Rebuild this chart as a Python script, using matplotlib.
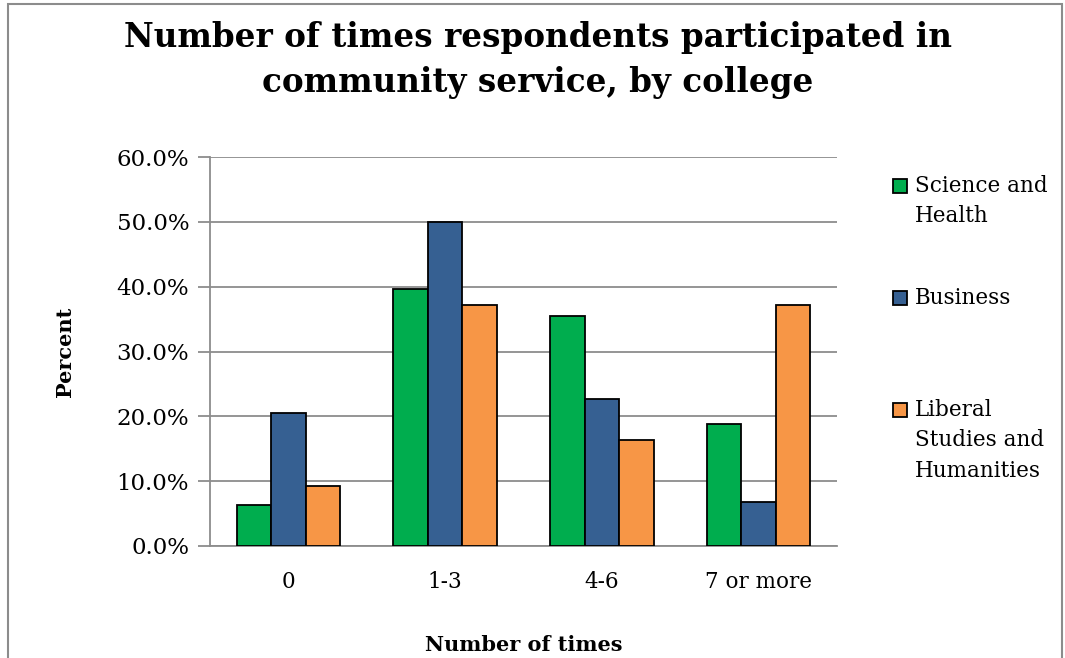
import matplotlib
matplotlib.use("Agg")
from matplotlib import pyplot as plt
from matplotlib.patches import Rectangle
from matplotlib.ticker import FuncFormatter
import numpy as np

categories = ['0', '1-3', '4-6', '7 or more']
science_health = [6.3, 39.6, 35.4, 18.8]
business = [20.5, 50.0, 22.7, 6.8]
liberal_studies = [9.3, 37.2, 16.3, 37.2]
series_names = ['Science and\nHealth', 'Business', 'Liberal\nStudies and\nHumanities']
colors = ['#00ad4e', '#366092', '#f79646']

plt.rcParams['font.family'] = ['DejaVu Serif']

W, H = 1065, 658
fig = plt.figure(figsize=(W / 100, H / 100), dpi=100)
ax = fig.add_axes([210/W, 1-546/H, 627/W, 389/H])

# outer chart border
fig.patches.append(Rectangle((8/W, -0.05), 1054/W, 1.05-4/H, transform=fig.transFigure,
                             fill=False, edgecolor='#8c8c8c', linewidth=1.5))

x = np.arange(len(categories))
w = 0.22
for i, (vals, c) in enumerate(zip([science_health, business, liberal_studies], colors)):
    ax.bar(x + (i - 1) * w, vals, w, color=c, edgecolor='black', linewidth=1.3, zorder=3)

ax.set_xlim(-0.5, 3.5)
ax.set_ylim(0, 60)
ax.set_yticks(np.arange(0, 61, 10))
ax.yaxis.set_major_formatter(FuncFormatter(lambda v, p: '%.1f%%' % v))
ax.set_xticks(x)
ax.set_xticklabels(categories)
ax.grid(axis='y', color='#8c8c8c', linewidth=1.3, zorder=0)
for s in ['top', 'right']:
    ax.spines[s].set_visible(False)
for s in ['left', 'bottom']:
    ax.spines[s].set_color('#8c8c8c')
    ax.spines[s].set_linewidth(1.3)
ax.tick_params(axis='y', length=9, color='#8c8c8c', width=1.3, labelsize=16.5, pad=6)
ax.tick_params(axis='x', length=0, labelsize=15.5, pad=18)

ax.set_ylabel('Percent', fontsize=15, fontweight='bold', labelpad=30)
ax.set_xlabel('Number of times', fontsize=15, fontweight='bold', labelpad=30)

fig.text(538/W, 1-60/H, 'Number of times respondents participated in\ncommunity service, by college',
         ha='center', va='center', fontsize=23.5, fontweight='bold', linespacing=1.45)

# legend: marker aligned with first line of each label
leg_y = [186, 298, 410]
for name, c, yy in zip(series_names, colors, leg_y):
    fig.patches.append(Rectangle((893/W, 1-(yy+7)/H), 14/W, 14/H, transform=fig.transFigure,
                                 facecolor=c, edgecolor='black', linewidth=1.3))
    fig.text(915/W, 1-(yy-11)/H, name, ha='left', va='top', fontsize=15.5, linespacing=1.5)

fig.savefig('out.png', dpi=100)
